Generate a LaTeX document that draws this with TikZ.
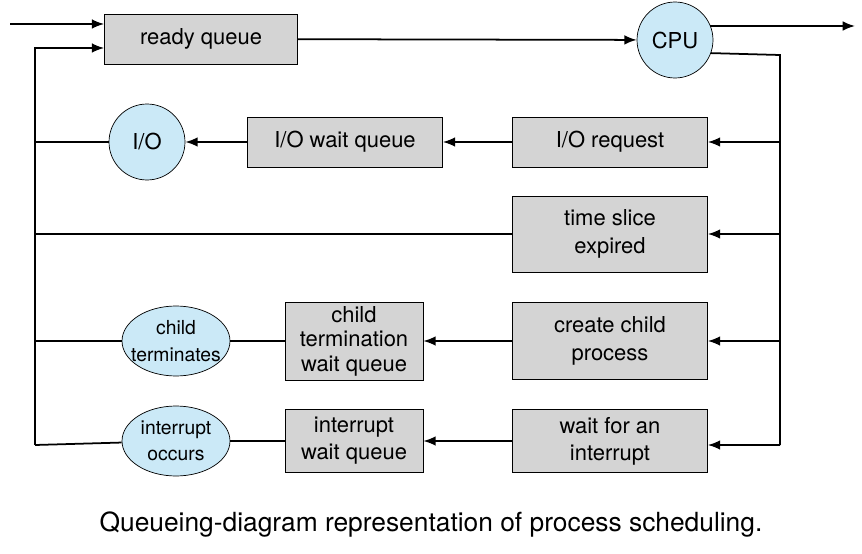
\documentclass[tikz,border=0pt]{standalone}
\usepackage{fontspec}
\setmainfont{TeX Gyre Heros}
\usetikzlibrary{shapes.geometric,arrows.meta}
\definecolor{boxgray}{HTML}{D4D4D4}
\definecolor{cpublue}{HTML}{CBE9F7}
\tikzset{
  queue/.style={draw, fill=boxgray, align=center, minimum height=#1},
  queue/.default=1cm,
  dev/.style={draw, circle, fill=cpublue, minimum size=1.52cm, inner sep=0pt},
  ev/.style={draw, ellipse, fill=cpublue, minimum width=2.16cm, minimum height=1.4cm, inner xsep=-8pt, inner ysep=-4pt, align=center, font=\fontsize{11}{15}\selectfont},
  flow/.style={line width=1pt, -{Latex[length=7pt,width=5.5pt]}},
  wire/.style={line width=1pt}
}
\begin{document}
\begin{tikzpicture}[x=0.02cm, y=-0.02cm, font=\fontsize{12.5}{15.5}\selectfont]
  \useasboundingbox (0,0) rectangle (862,554);

  % top row
  \node[queue, minimum width=3.86cm] (ready) at (201,39) {ready queue};
  \node[dev] (cpu) at (675,40) {CPU};

  % request boxes on the right
  \node[queue, minimum width=3.9cm] (ioreq) at (610,142) {I/O request};
  \node[queue=1.52cm, minimum width=3.9cm] (slice) at (610,234) {time slice\\expired};
  \node[queue=1.54cm, minimum width=3.9cm] (fork) at (610,341) {create child\\process};
  \node[queue=1.26cm, minimum width=3.9cm] (intr) at (610,441) {wait for an\\interrupt};

  % wait queues
  \node[queue, minimum width=3.9cm] (iowait) at (345,142) {I/O wait queue};
  \node[queue=1.56cm, minimum width=2.76cm, inner sep=1pt, font=\fontsize{12.5}{14}\selectfont] (childwait) at (354,341) {child\\termination\\wait queue};
  \node[queue=1.26cm, minimum width=2.76cm] (intwait) at (354,441) {interrupt\\wait queue};

  % events
  \node[dev] (io) at (147,142) {I/O};
  \node[ev] (childev) at (176,341) {child\\terminates};
  \node[ev] (intev) at (176,441) {interrupt\\occurs};

  % named corners
  \coordinate (in) at (10,24);
  \coordinate (out) at (855,26);
  \coordinate (rtop) at (780,55);
  \coordinate (rbot) at (780,445);
  \coordinate (ltop) at (35,48);
  \coordinate (lbot) at (35,445);

  % main path
  \draw[flow] (in) -- (in -| ready.west);
  \draw[flow] (ready) -- (cpu);
  \draw[flow] (cpu.east |- out) ++(-3,0) -- (out);
  \draw[wire] (cpu.-20) -- (rtop) -- (rbot);

  % right bus into the boxes
  \foreach \b in {ioreq, slice, fork}
    \draw[flow] (rtop |- \b) -- (\b.east);
  \draw[flow] (rbot) -- (intr.east |- rbot);

  % into the wait queues
  \draw[flow] (ioreq) -- (iowait);
  \draw[flow] (iowait) -- (io);
  \draw[flow] (fork) -- (childwait);
  \draw[flow] (intr) -- (intwait);
  \draw[wire] (childwait) -- (childev);
  \draw[wire] (intwait) -- (intev);

  % back to the ready queue
  \draw[wire] (io) -- (ltop |- io);
  \draw[wire] (slice) -- (ltop |- slice);
  \draw[wire] (childev) -- (ltop |- childev);
  \draw[wire] (intev) -- (lbot);
  \draw[flow] (lbot) -- (ltop) -- (ltop -| ready.west);

  \node[font=\fontsize{15}{18}\selectfont] (caption) at (431,525) {Queueing-diagram representation of process scheduling.};
\end{tikzpicture}
\end{document}
